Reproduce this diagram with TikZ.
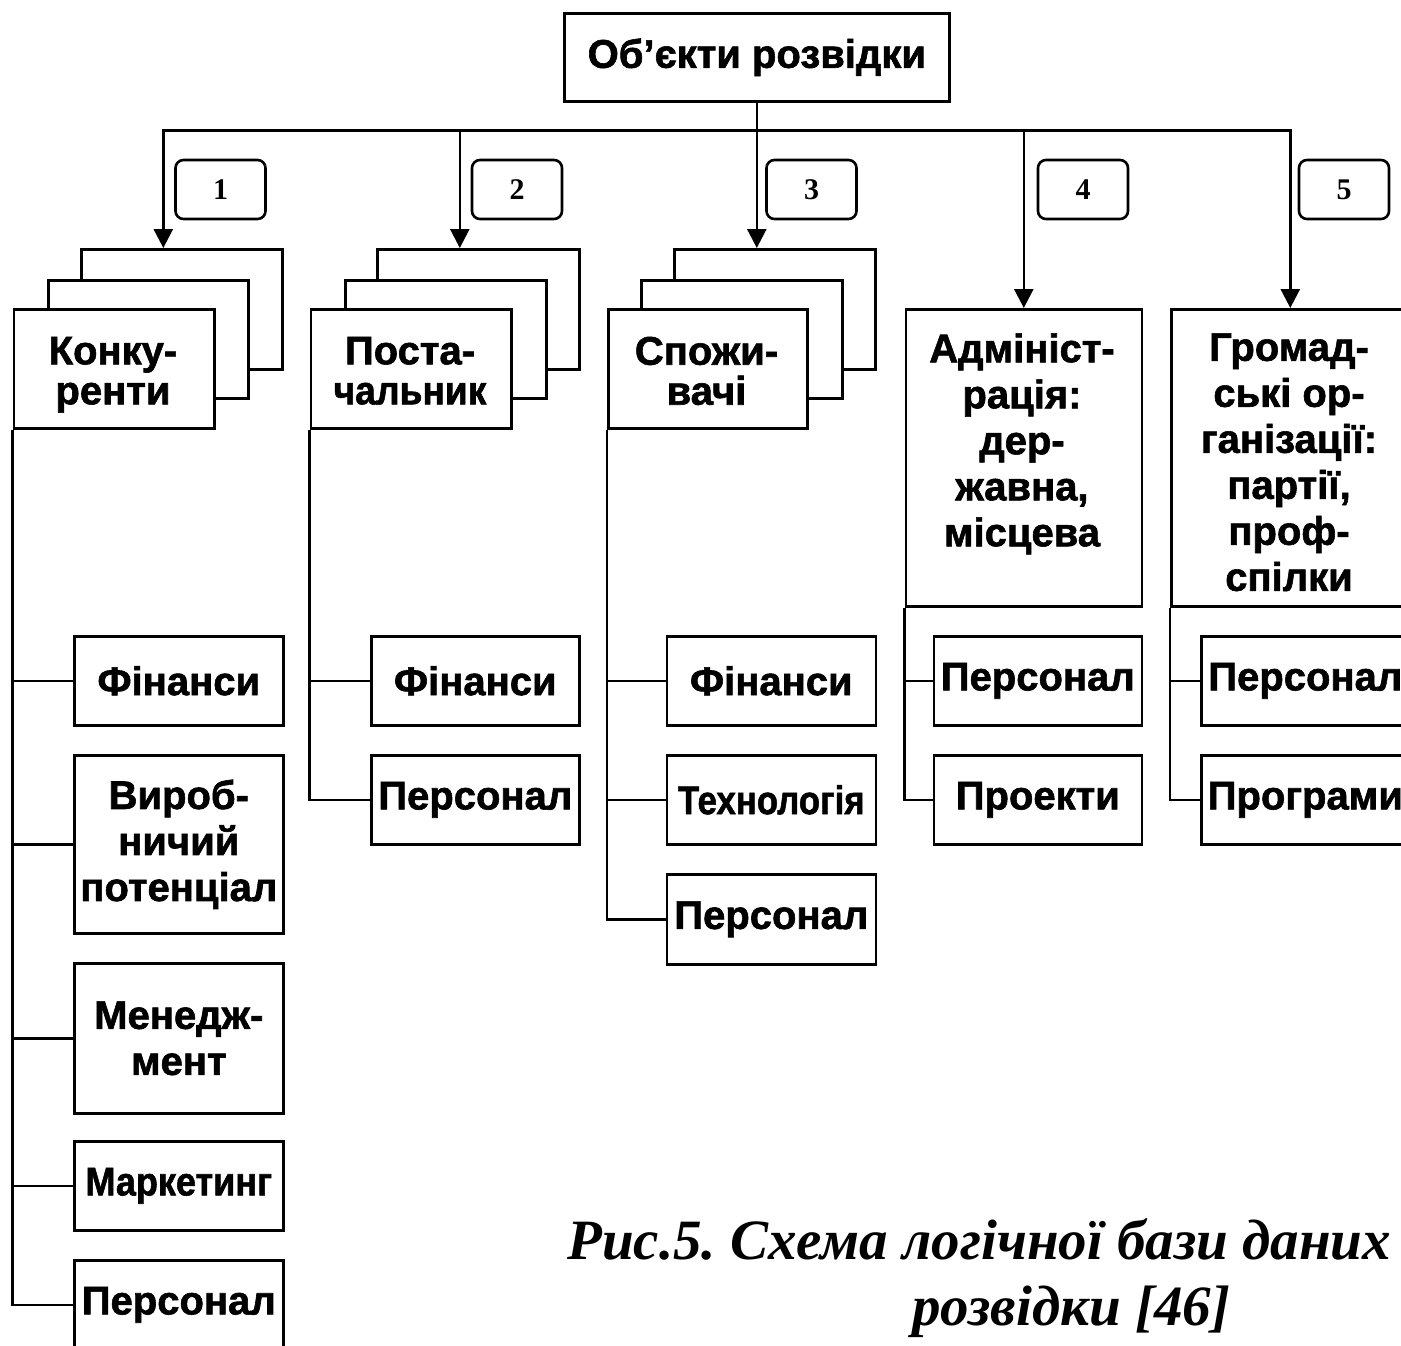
\documentclass[tikz,border=0pt]{standalone}
\usepackage{fontspec}
\usepackage{graphicx}
\setmainfont{Liberation Sans}[BoldFeatures={FakeBold=1.5}]
\newfontfamily\capfont{Liberation Serif}
\usetikzlibrary{arrows.meta}
\newcommand\sqz[2]{\scalebox{#1}[1]{#2}}
\frenchspacing
\begin{document}
\begin{tikzpicture}[x=1pt,y=-1pt,line width=2.6pt,
  bx/.style={draw,fill=white,inner sep=0pt,anchor=north west,align=center,
    font=\bfseries\fontsize{40}{46}\selectfont},
  txt/.style={inner sep=0pt,align=center,font=\bfseries\fontsize{40}{46}\selectfont},
  txts/.style={inner sep=0pt,align=center,anchor=north,font=\bfseries\fontsize{40}{40}\selectfont},
  nb/.style={draw,fill=white,rounded corners=8pt,minimum width=90pt,minimum height=59pt,
    inner sep=0pt,font=\capfont\bfseries\fontsize{30}{30}\selectfont},
  arr/.style={-{Triangle[length=19pt,width=19pt]}},
  capt/.style={inner sep=0pt,anchor=base west,font=\capfont\bfseries\itshape\fontsize{57}{60}\selectfont}]
\useasboundingbox (0,0) rectangle (1401,1346);
\fill[white] (0,0) rectangle (1401,1346);
\clip (0,0) rectangle (1401,1346);

% top
\node[bx,minimum width=385pt,minimum height=88pt] (top) at (563,12) {Об’єкти розвідки};

% number boxes
\node[nb] (n1) at (220.5,189.5) {1};
\node[nb] (n2) at (517,189.5) {2};
\node[nb] (n3) at (811.5,189.5) {3};
\node[nb] (n4) at (1083,189.5) {4};
\node[nb] (n5) at (1344,189.5) {5};

% stacks
\node[bx,minimum width=201pt,minimum height=120pt] (c1b) at (80,248) {};
\node[bx,minimum width=200pt,minimum height=118pt] (c1m) at (47,279) {};
\node[bx,minimum width=200.5pt,minimum height=119pt] (c1f) at (12.5,308) {};
\node[txts] (c1t) at (113,335.5) {Конку-\\ренти};
\node[bx,minimum width=202pt,minimum height=120pt] (c2b) at (376,248) {};
\node[bx,minimum width=201pt,minimum height=118pt] (c2m) at (344,279) {};
\node[bx,minimum width=200.5pt,minimum height=119pt] (c2f) at (309.5,308) {};
\node[txts] (c2t) at (410,335.5) {Поста-\\\sqz{0.93}{чальник}};
\node[bx,minimum width=201pt,minimum height=120pt] (c3b) at (673,248) {};
\node[bx,minimum width=201pt,minimum height=118pt] (c3m) at (640,279) {};
\node[bx,minimum width=199pt,minimum height=119pt] (c3f) at (607,308) {};
\node[txts] (c3t) at (706.5,335.5) {Спожи-\\вачі};

% tall boxes
\node[bx,minimum width=236pt,minimum height=297pt] (c4) at (904.5,308) {};
\node[txt,anchor=north] (c4t) at (1022,332) {Адмініст-\\рація:\\дер-\\жавна,\\місцева};
\node[bx,minimum width=238pt,minimum height=297pt] (c5) at (1170,308) {};
\node[txt,anchor=north] (c5t) at (1289,332) {Громад-\\ські ор-\\ганізації:\\партії,\\проф-\\спілки};

% sub boxes
\node[bx,minimum width=209pt,minimum height=89pt] (c1s1) at (73,635) {Фінанси};
\node[bx,minimum width=209pt,minimum height=178pt] (c1s2) at (73,754) {Вироб-\\ничий\\потенціал};
\node[bx,minimum width=209pt,minimum height=150pt] (c1s3) at (73,962) {Менедж-\\мент};
\node[bx,minimum width=209pt,minimum height=89pt] (c1s4) at (73,1140) {\sqz{0.9}{Маркетинг}};
\node[bx,minimum width=209pt,minimum height=89pt] (c1s5) at (73,1259) {Персонал};

\node[bx,minimum width=208pt,minimum height=89pt] (c2s1) at (370,635) {Фінанси};
\node[bx,minimum width=208pt,minimum height=89pt] (c2s2) at (370,754) {Персонал};

\node[bx,minimum width=209pt,minimum height=89pt] (c3s1) at (665.5,635) {Фінанси};
\node[bx,minimum width=209pt,minimum height=89pt] (c3s2) at (665.5,754) {\sqz{0.87}{Технологія}};
\node[bx,minimum width=209pt,minimum height=90pt] (c3s3) at (665.5,873) {Персонал};

\node[bx,minimum width=208pt,minimum height=89pt] (c4s1) at (932.5,635) {Персонал};
\node[bx,minimum width=208pt,minimum height=89pt] (c4s2) at (932.5,754) {Проекти};

\node[bx,minimum width=208pt,minimum height=89pt] (c5s1) at (1200,635) {Персонал};
\node[bx,minimum width=208pt,minimum height=89pt] (c5s2) at (1200,754) {Програми};

% arrows from top
\coordinate (bus) at (755.5,130.5);
\draw[arr] (top.south) -- (top.south |- c3b.north);
\draw[arr] (bus) -| ([xshift=-18.5pt]c1b.north);
\draw[arr] (bus) -| ([xshift=-18.5pt]c2b.north);
\draw[arr] (bus) -| (c4.north);
\draw[arr] (bus) -| (c5.north);

% branches
\foreach \s in {c1s1,c1s2,c1s3,c1s4,c1s5} \draw (c1f.south west) |- (\s.west);
\foreach \s in {c2s1,c2s2} \draw (c2f.south west) |- (\s.west);
\foreach \s in {c3s1,c3s2,c3s3} \draw (c3f.south west) |- (\s.west);
\foreach \s in {c4s1,c4s2} \draw (c4.south west) |- (\s.west);
\foreach \s in {c5s1,c5s2} \draw (c5.south west) |- (\s.west);

% caption
\node[capt] (cap1) at (566,1259) {Рис.5. Схема логічної бази даних};
\node[capt] (cap2) at (911,1325) {розвідки [46]};
\end{tikzpicture}
\end{document}
